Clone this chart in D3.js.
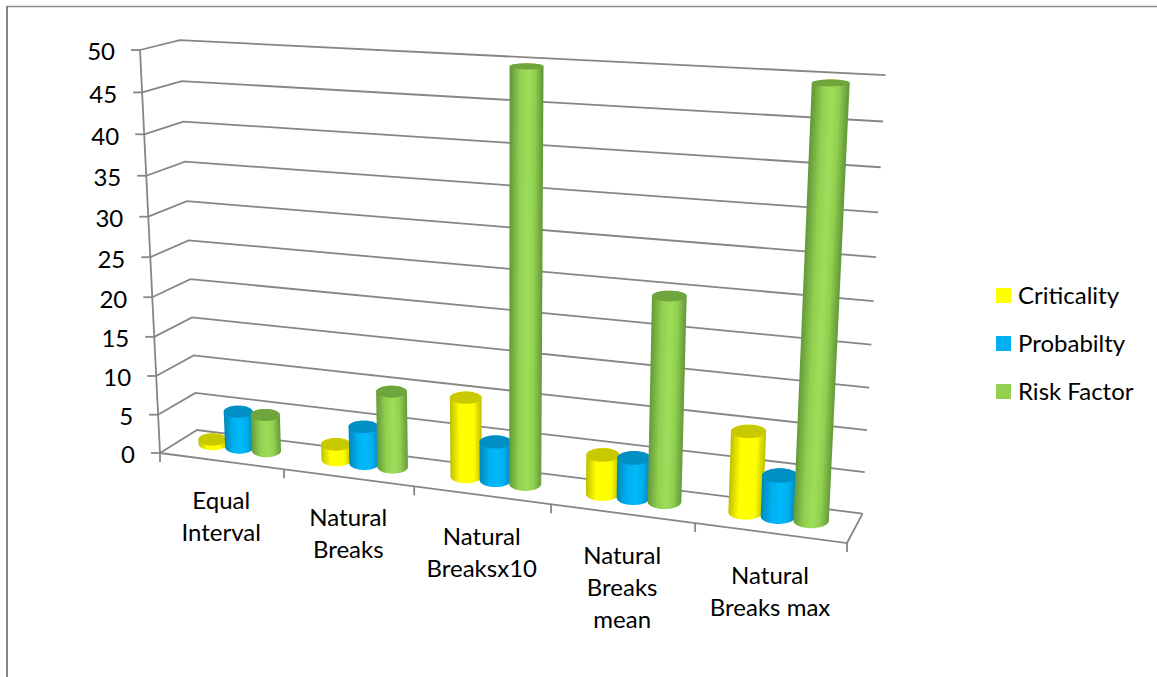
<!DOCTYPE html>
<html>
<head>
<meta charset="utf-8">
<script src="https://cdn.jsdelivr.net/npm/d3@7"></script>
<style>
    body { margin: 0; background: #fff; }
    text { font-family: Lato, "Open Sans", sans-serif; fill: #000; }
</style>
</head>
<body>
<svg id="chart" width="1157" height="677"></svg>
<script>
// values
const categories = [
    ["Equal", "Interval"],
    ["Natural", "Breaks"],
    ["Natural", "Breaksx10"],
    ["Natural", "Breaks", "mean"],
    ["Natural", "Breaks max"]
]
const seriesNames = ["Criticality", "Probabilty", "Risk Factor"]
const criticality = [0.6, 2, 9.9, 4.8, 9.7]
const probability = [4.7, 4.7, 4.8, 4.9, 4.9]
const riskFactor = [4.7, 9.6, 49.6, 24.6, 49.5]
const valueTicks = [0, 5, 10, 15, 20, 25, 30, 35, 40, 45, 50]

const seriesValues = [criticality, probability, riskFactor]
const fills = ["#FFFF00", "#00B0F0", "#92D050"]
const caps = ["#C9C900", "#008FC2", "#6FA53D"]
const edges = ["#BFBF00", "#0088B8", "#659A3A"]
const lights = ["#FFFF00", "#00BAFA", "#9CDE5A"]

const svg = d3.select("#chart")
const defs = svg.append("defs")

// the chart sits in a perspective box, u along categories, v up, w into the page
const camera = {
    ox: 160, oy: 453,
    ux: 586.2, uy: 25.4, ua: -0.119,
    vx: -27.7, vy: -405.75, va: -0.055,
    wx: 43.9, wy: -7.95, wa: 0.035
}

function project(u, v, w) {
    let d = 1 + camera.ua * u + camera.va * v + camera.wa * w
    return [
        (camera.ox + camera.ux * u + camera.vx * v + camera.wx * w) / d,
        (camera.oy + camera.uy * u + camera.vy * v + camera.wy * w) / d
    ]
}

let yScale = d3.scaleLinear().domain([0, 50]).range([0, 1])

let xScale = d3.scaleBand()
    .domain(d3.range(categories.length))
    .range([0, 1])
    .paddingInner(0.34)
    .paddingOuter(0.17)

let seriesScale = d3.scaleBand()
    .domain(d3.range(seriesNames.length))
    .range([0, xScale.bandwidth()])

let line = d3.line()
let gridColor = "#868686"

// frame, only top and left show
svg.append("line").attr("x1", 6).attr("y1", 6.5).attr("x2", 1157).attr("y2", 6.5)
    .attr("stroke", "#8c8c8c").attr("stroke-width", 1.5)
svg.append("line").attr("x1", 7).attr("y1", 6).attr("x2", 7).attr("y2", 677)
    .attr("stroke", "#868686").attr("stroke-width", 2)

// gridlines on side wall and back wall
svg.selectAll(".grid")
    .data(valueTicks)
    .enter()
    .append("path")
        .attr("class", "grid")
        .attr("fill", "none")
        .attr("stroke", gridColor)
        .attr("stroke-width", 1.8)
        .attr("d", d => {
            let v = yScale(d)
            return line([project(0, v, 0), project(0, v, 1), project(1, v, 1)])
        })

// floor
svg.append("path")
    .attr("fill", "none")
    .attr("stroke", gridColor)
    .attr("stroke-width", 1.8)
    .attr("d", line([project(1, 0, 1), project(1, 0, 0), project(0, 0, 0)]))

// value axis
svg.append("path")
    .attr("stroke", gridColor)
    .attr("stroke-width", 1.8)
    .attr("d", line([project(0, 0, 0), project(0, 1, 0)]))

let yTicks = svg.selectAll(".ytick")
    .data(valueTicks)
    .enter()
    .append("g")
        .attr("class", "ytick")
        .attr("transform", d => "translate(" + project(0, yScale(d), 0) + ")")

yTicks.append("line")
    .attr("x1", -9).attr("x2", 0)
    .attr("stroke", gridColor)
    .attr("stroke-width", 1.8)

yTicks.append("text")
    .attr("x", -25)
    .attr("y", 2)
    .attr("dy", "0.35em")
    .attr("text-anchor", "end")
    .attr("font-size", 24)
    .text(d => d)

// category ticks
svg.selectAll(".xtick")
    .data(d3.range(categories.length + 1))
    .enter()
    .append("line")
        .attr("class", "xtick")
        .attr("stroke", gridColor)
        .attr("stroke-width", 1.8)
        .attr("x1", d => project(d / categories.length, 0, 0)[0])
        .attr("x2", d => project(d / categories.length, 0, 0)[0])
        .attr("y1", d => project(d / categories.length, 0, 0)[1])
        .attr("y2", d => project(d / categories.length, 0, 0)[1] + 9)

// category labels
categories.forEach((lines, i) => {
    let p = project(xScale(i) + xScale.bandwidth() / 2, 0, 0)
    let label = svg.append("text")
        .attr("text-anchor", "middle")
        .attr("font-size", 24)
    lines.forEach((t, k) => {
        label.append("tspan")
            .attr("x", p[0])
            .attr("y", p[1] + 48 + i * 0.8 + k * 32)
            .text(t)
    })
})

// cylinders, caps stay level so only the size of the ring is taken from the box
let radiusU = 0.0235
let radiusW = 0.27
let centerW = 0.56
let shiftU = -0.003
let angles = d3.range(0, 360, 6).map(d => d * Math.PI / 180)

function ring(uc, value) {
    let v = yScale(value)
    let c = project(uc, v, centerW)
    let side = project(uc + radiusU, v, centerW)
    let back = project(uc, v, centerW + radiusW)
    return angles.map(a => [
        c[0] + (side[0] - c[0]) * Math.cos(a),
        c[1] + (back[1] - c[1]) * Math.sin(a)
    ])
}

let bars = []
categories.forEach((c, i) => {
    seriesNames.forEach((s, j) => {
        bars.push({
            cat: i,
            series: j,
            value: seriesValues[j][i],
            uc: xScale(i) + seriesScale(j) + seriesScale.bandwidth() / 2 + shiftU
        })
    })
})

bars.forEach((d, n) => {
    let base = ring(d.uc, 0)
    let top = ring(d.uc, d.value)
    let b = project(d.uc, 0, centerW)
    let t = project(d.uc, yScale(d.value), centerW)
    let len = Math.hypot(t[0] - b[0], t[1] - b[1])
    let r = (d3.max(base, p => p[0]) - d3.min(base, p => p[0])) / 2
    let nx = -(t[1] - b[1]) / len
    let ny = (t[0] - b[0]) / len
    if (nx < 0) { nx = -nx; ny = -ny }

    let grad = defs.append("linearGradient")
        .attr("id", "bar" + n)
        .attr("gradientUnits", "userSpaceOnUse")
        .attr("x1", b[0] - nx * r).attr("y1", b[1] - ny * r)
        .attr("x2", b[0] + nx * r).attr("y2", b[1] + ny * r)
    grad.append("stop").attr("offset", "0").attr("stop-color", edges[d.series])
    grad.append("stop").attr("offset", "0.3").attr("stop-color", fills[d.series])
    grad.append("stop").attr("offset", "0.55").attr("stop-color", lights[d.series])
    grad.append("stop").attr("offset", "0.75").attr("stop-color", fills[d.series])
    grad.append("stop").attr("offset", "1").attr("stop-color", edges[d.series])

    svg.append("path")
        .attr("fill", "url(#bar" + n + ")")
        .attr("d", line(d3.polygonHull(base.concat(top))) + "Z")
    svg.append("path")
        .attr("fill", caps[d.series])
        .attr("d", line(top) + "Z")
})

// legend
let legendY = d3.scalePoint().domain(seriesNames).range([295.5, 391.5])

let legend = svg.selectAll(".legend")
    .data(seriesNames)
    .enter()
    .append("g")
        .attr("class", "legend")
        .attr("transform", d => "translate(996," + legendY(d) + ")")

legend.append("rect")
    .attr("y", -7.5)
    .attr("width", 15)
    .attr("height", 15)
    .attr("fill", (d, i) => fills[i])

legend.append("text")
    .attr("x", 22)
    .attr("dy", "0.35em")
    .attr("font-size", 24)
    .text(d => d)
</script>
</body>
</html>
